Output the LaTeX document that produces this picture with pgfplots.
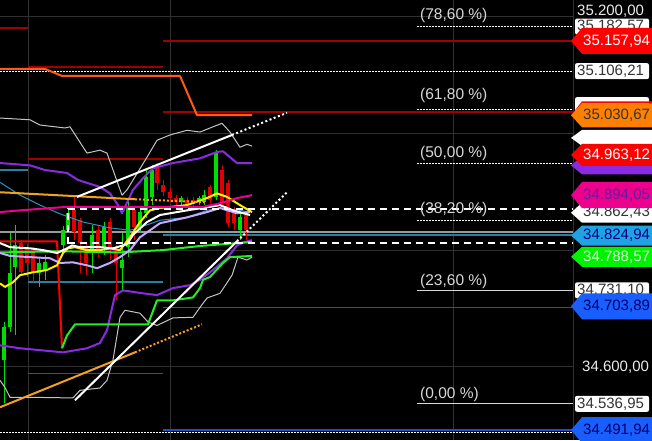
\documentclass[border=0pt]{standalone}
\usepackage{pgfplots}
\pgfplotsset{compat=1.18}
\usepackage{fontspec}
\setmainfont{Liberation Sans}
\definecolor{cgreen}{HTML}{00DD00}
\definecolor{cred}{HTML}{E00000}
\definecolor{dkred}{HTML}{A00000}
\definecolor{bandgray}{HTML}{C4C4C4}
\definecolor{purp}{HTML}{8A2BE2}
\definecolor{lav}{HTML}{C9A8FF}
\definecolor{tealc}{HTML}{2E8FC0}
\definecolor{tealh}{HTML}{2A7F9E}
\definecolor{blueh}{HTML}{1F4FC8}
\definecolor{ostep}{HTML}{FF5A14}
\definecolor{gold}{HTML}{F2A21E}
\definecolor{yel}{HTML}{FFF000}
\definecolor{gline}{HTML}{22EE22}
\definecolor{gridc}{HTML}{303030}
\definecolor{fibc}{HTML}{D8D8D8}
\newcommand{\tagfont}{\fontsize{15}{15}\selectfont}
\newcommand{\fibfont}{\fontsize{15.5}{15.5}\selectfont}
\newcommand{\ptag}[5]{%
  \fill[#3] (axis cs:571,#1) -- ++(11pt,#2pt) -- ++(100pt,0pt) -- ++(0pt,-#2pt) -- ++(0pt,-#2pt) -- ++(-100pt,0pt) -- cycle;
  \node[anchor=west, text=#4, inner sep=0pt, font=\tagfont] at (axis cs:583,#1) {#5};}
\newcommand{\pshape}[3]{%
  \fill[#3] (axis cs:571,#1) -- ++(11pt,#2pt) -- ++(100pt,0pt) -- ++(0pt,-#2pt) -- ++(0pt,-#2pt) -- ++(-100pt,0pt) -- cycle;}
\newcommand{\wbox}[2]{%
  \fill[white, rounded corners=2pt] (axis cs:575,#1) ++(0pt,-8pt) rectangle ++(74pt,16pt);
  \node[anchor=west, text=black!80, inner sep=0pt, font=\tagfont] at (axis cs:577,#1) {#2};}
\newcommand{\fiblab}[2]{%
  \node[anchor=west, text=fibc, inner sep=0pt, font=\fibfont] at (axis cs:420,#1) {#2};}
\begin{document}
\begin{tikzpicture}
\useasboundingbox (0,0) rectangle (652pt,440pt);
\fill[black] (0,0) rectangle (652pt,440pt);
\begin{axis}[at={(0pt,0pt)}, anchor=south west, width=652pt, height=440pt,
  scale only axis, xmin=0, xmax=652, ymin=34475, ymax=35228,
  axis lines=none, xtick=\empty, ytick=\empty, clip=true,
  every axis plot/.append style={line join=round}]
% grid
\addplot[gridc, line width=1pt, unbounded coords=jump] coordinates {(0,35200)(573,35200)(0,nan)(0,35000)(573,35000)(0,nan)(0,34800)(573,34800)(0,nan)(0,34600)(573,34600)};
\addplot[gridc, line width=1pt, unbounded coords=jump] coordinates {(28,34475)(28,35228)(28,nan)(170,34475)(170,35228)(170,nan)(453,34475)(453,35228)(453,nan)(573,34475)(573,35228)};
% level lines
\addplot[dkred, line width=1.6pt, unbounded coords=jump] coordinates {(0,35180)(28,35180)(0,nan)(163,35158)(573,35158)(0,nan)(28,35113)(163,35113)(0,nan)(163,35036)(573,35036)(0,nan)(28,34956)(163,34956)};
\addplot[tealh, line width=1.6pt, unbounded coords=jump] coordinates {(0,34937)(28,34937)(0,nan)(28,34745)(163,34745)(0,nan)(163,34826)(573,34826)};
\addplot[blueh, line width=1.6pt, unbounded coords=jump] coordinates {(28,34589)(163,34589)(0,nan)(163,34702)(573,34702)(0,nan)(163,34492)(573,34492)};
\addplot[gray!80, line width=1.2pt] coordinates {(0,34831)(573,34831)};
\addplot[fibc, line width=1.2pt, unbounded coords=jump] coordinates {(417,34731)(573,34731)(0,nan)(417,34537)(573,34537)};
\addplot[white, line width=1pt, dash pattern=on 1.5pt off 1.5pt, unbounded coords=jump] coordinates {(417,35182)(573,35182)(0,nan)(0,35106)(573,35106)(0,nan)(417,35040)(573,35040)(0,nan)(417,34949)(573,34949)(0,nan)(417,34851)(573,34851)(0,nan)(0,34487)(573,34487)};
% candles
\addplot[cgreen, line width=1pt, unbounded coords=jump] coordinates {
(4,34538)(4,34677)(4,nan)(10,34660)(10,34829)(10,nan)(15,34654)(15,34843)(15,nan)
(39,34737)(39,34788)(39,nan)(45,34749)(45,34791)(45,nan)(63,34800)(63,34841)(63,nan)
(68,34831)(68,34872)(68,nan)(92,34761)(92,34843)(92,nan)(104,34791)(104,34848)(104,nan)
(122,34731)(122,34829)(122,nan)(128,34788)(128,34886)(128,nan)(140,34831)(140,34872)(140,nan)
(146,34855)(146,34937)(146,nan)(152,34877)(152,34945)(152,nan)(181,34877)(181,34892)(181,nan)
(199,34877)(199,34892)(199,nan)(204,34877)(204,34903)(204,nan)(216,34886)(216,34971)(216,nan)
(240,34817)(240,34863)};
\addplot[cgreen, line width=4pt, line cap=butt, unbounded coords=jump] coordinates {
(4,34612)(4,34668)(4,nan)(10,34668)(10,34761)(10,nan)(15,34771)(15,34808)(15,nan)
(39,34761)(39,34778)(39,nan)(45,34766)(45,34779)(45,nan)(63,34808)(63,34834)(63,nan)
(68,34834)(68,34863)(68,nan)(92,34795)(92,34826)(92,nan)(104,34805)(104,34839)(104,nan)
(122,34769)(122,34783)(122,nan)(128,34805)(128,34874)(128,nan)(140,34839)(140,34865)(140,nan)
(146,34863)(146,34925)(146,nan)(152,34891)(152,34937)(152,nan)(181,34882)(181,34889)(181,nan)
(199,34882)(199,34889)(199,nan)(204,34882)(204,34894)(204,nan)(216,34891)(216,34966)(216,nan)
(240,34834)(240,34856)};
\addplot[cred, line width=1pt, unbounded coords=jump] coordinates {
(21,34757)(21,34817)(21,nan)(27,34754)(27,34810)(27,nan)(33,34745)(33,34805)(33,nan)
(74,34817)(74,34891)(74,nan)(80,34761)(80,34855)(80,nan)(86,34757)(86,34814)(86,nan)
(98,34786)(98,34843)(98,nan)(110,34783)(110,34855)(110,nan)(116,34714)(116,34808)(116,nan)
(134,34817)(134,34875)(134,nan)(157,34903)(157,34949)(157,nan)(163,34892)(163,34920)(163,nan)
(170,34882)(170,34906)(170,nan)(176,34875)(176,34894)(176,nan)(187,34872)(187,34891)(187,nan)
(193,34874)(193,34891)(193,nan)(210,34880)(210,34911)(210,nan)(222,34868)(222,34945)(222,nan)
(228,34839)(228,34920)(228,nan)(234,34834)(234,34874)(234,nan)(246,34817)(246,34863)};
\addplot[cred, line width=4pt, line cap=butt, unbounded coords=jump] coordinates {
(21,34762)(21,34812)(21,nan)(27,34778)(27,34805)(27,nan)(33,34762)(33,34800)(33,nan)
(74,34831)(74,34868)(74,nan)(80,34812)(80,34851)(80,nan)(86,34778)(86,34805)(86,nan)
(98,34796)(98,34834)(98,nan)(110,34800)(110,34848)(110,nan)(116,34778)(116,34800)(116,nan)
(134,34839)(134,34868)(134,nan)(157,34915)(157,34942)(157,nan)(163,34899)(163,34911)(163,nan)
(170,34889)(170,34899)(170,nan)(176,34882)(176,34889)(176,nan)(187,34877)(187,34886)(187,nan)
(193,34879)(193,34886)(193,nan)(210,34886)(210,34908)(210,nan)(222,34880)(222,34937)(222,nan)
(228,34846)(228,34915)(228,nan)(234,34846)(234,34868)(234,nan)(246,34834)(246,34860)};
% orange step line
\addplot[ostep, line width=2pt] coordinates {(0,35110)(45,35110)(55,35103)(62,35098)(180,35098)(197,35031)(252,35031)};
% bands
\addplot[bandgray, line width=1pt] coordinates {(0,35026)(30,35023)(40,35014)(65,35009)(70,35011)(87,34966)(100,34971)(107,34966)(122,34894)(127,34903)(147,34959)(157,34988)(170,34997)(187,35005)(200,35002)(213,35011)(222,35017)(230,35002)(240,34976)(247,34981)(252,34978)};
\addplot[bandgray, line width=1pt] coordinates {(0,34577)(5,34565)(10,34548)(33,34548)(73,34547)(80,34560)(100,34564)(107,34577)(113,34612)(120,34685)(125,34697)(140,34692)(148,34677)(157,34671)(173,34684)(193,34685)(200,34702)(207,34718)(220,34726)(232,34757)(238,34788)(247,34783)(252,34788)};
\addplot[purp, line width=2pt] coordinates {(0,34949)(30,34945)(45,34937)(67,34932)(78,34920)(100,34908)(110,34897)(118,34877)(122,34863)(133,34903)(143,34923)(153,34940)(173,34949)(200,34957)(217,34968)(223,34969)(237,34949)(252,34949)};
\addplot[purp, line width=2pt] coordinates {(0,34637)(20,34632)(63,34625)(87,34632)(100,34641)(107,34663)(115,34723)(123,34731)(143,34726)(157,34723)(173,34735)(190,34740)(200,34749)(213,34766)(227,34786)(237,34808)(245,34814)(252,34817)};
% red and green steps
\addplot[red, line width=2pt] coordinates {(0,34815)(57,34815)(62,34632)};
\addplot[gline, line width=2pt] coordinates {(62,34632)(67,34654)(75,34673)(148,34673)(157,34714)(173,34714)(193,34719)(200,34735)(203,34749)(210,34754)(223,34778)(230,34788)(252,34790)};
\addplot[gline, line width=2pt] coordinates {(0,34796)(60,34798)(120,34796)(163,34800)(200,34807)(252,34814)};
% moving averages
\addplot[tealc, line width=1pt] coordinates {(0,34916)(20,34894)(40,34877)(60,34862)(83,34848)(110,34838)(130,34834)(140,34839)(160,34851)(187,34856)(207,34868)(220,34872)(240,34868)(250,34865)};
\addplot[lav, line width=2pt] coordinates {(0,34795)(10,34790)(30,34788)(50,34786)(60,34778)(73,34779)(87,34774)(97,34769)(110,34778)(120,34788)(130,34800)(140,34822)(160,34846)(187,34856)(207,34865)(220,34872)(237,34863)(250,34865)};
\addplot[yel, line width=2pt] coordinates {(0,34743)(5,34737)(13,34745)(20,34757)(33,34762)(47,34766)(57,34774)(63,34795)(68,34803)(75,34805)(87,34800)(100,34800)(110,34803)(120,34800)(130,34822)(140,34848)(150,34868)(160,34872)(187,34877)(207,34889)(217,34897)(227,34891)(240,34877)(252,34865)};
\addplot[white, line width=2pt] coordinates {(0,34812)(10,34805)(30,34803)(43,34800)(57,34795)(67,34803)(72,34808)(80,34805)(100,34805)(113,34803)(127,34810)(133,34826)(147,34848)(160,34860)(187,34868)(210,34874)(220,34877)(233,34868)(250,34860)};
\addplot[magenta, line width=2pt] coordinates {(0,34865)(20,34868)(67,34874)(130,34874)(203,34874)(220,34880)(237,34889)(252,34894)};
% trend lines
\addplot[gold, line width=2pt] coordinates {(0,34899)(135,34887)};
\addplot[gold, line width=2pt, dash pattern=on 2pt off 2pt] coordinates {(135,34887)(205,34882)};
\addplot[gold, line width=2pt] coordinates {(0,34531)(135,34625)};
\addplot[gold, line width=2pt, dash pattern=on 2pt off 2pt] coordinates {(135,34625)(202,34673)};
\addplot[white, line width=2pt] coordinates {(77,34891)(232,34997)};
\addplot[white, line width=2pt, dash pattern=on 2pt off 2.5pt] coordinates {(232,34997)(287,35035)};
\addplot[white, line width=2pt] coordinates {(75,34543)(237,34815)};
\addplot[white, line width=2pt, dash pattern=on 2pt off 2.5pt] coordinates {(237,34815)(287,34899)};
% dashed box levels
\addplot[white, line width=2pt, dash pattern=on 7pt off 5pt, unbounded coords=jump] coordinates {(68,34870)(573,34870)(0,nan)(68,34812)(573,34812)(0,nan)(68,34810)(68,34872)};
% fib labels
\fiblab{35201}{(78,60 \%)}
\fiblab{35064}{(61,80 \%)}
\fiblab{34966}{(50,00 \%)}
\fiblab{34870}{(38,20 \%)}
\fiblab{34747}{(23,60 \%)}
\fiblab{34553}{(0,00 \%)}
% right price tags
\node[anchor=west, text=white!92!black, inner sep=0pt, font=\tagfont] at (axis cs:577,35209) {35.200,00};
\wbox{35182.57}{35.182,57}
\ptag{35157.94}{13}{red}{white}{35.157,94}
\wbox{35106.21}{35.106,21}
\fill[white, rounded corners=2pt] (axis cs:575,35048) ++(0pt,-8pt) rectangle ++(74pt,16pt);
\fill[red] (axis cs:571,35030.67) -- ++(11pt,14pt) -- ++(100pt,0pt) -- ++(0pt,-2pt) -- ++(-100pt,0pt) -- cycle;
\ptag{35030.67}{12}{orange}{black!80}{35.030,67}
\pshape{34992}{8}{white}
\pshape{34945}{9}{purp}
\ptag{34963.12}{11}{red}{white}{34.963,12}
\ptag{34864}{10}{white}{black!80}{34.862,43}
\ptag{34894.05}{13}{magenta}{purp!70!black}{34.894,05}
\ptag{34824.94}{10}{cyan!85!blue!90!white}{blue!50!black}{34.824,94}
\ptag{34788.57}{10}{green!95!black}{green!12!white}{34.788,57}
\wbox{34731.10}{34.731,10}
\ptag{34703.89}{13}{blue!70!cyan!90!white}{blue!40!black}{34.703,89}
\node[anchor=west, text=white!92!black, inner sep=0pt, font=\tagfont] at (axis cs:582,34600) {34.600,00};
\wbox{34536.95}{34.536,95}
\ptag{34491.94}{13}{blue!70!cyan!90!white}{blue!40!black}{34.491,94}
\end{axis}
\end{tikzpicture}
\end{document}
